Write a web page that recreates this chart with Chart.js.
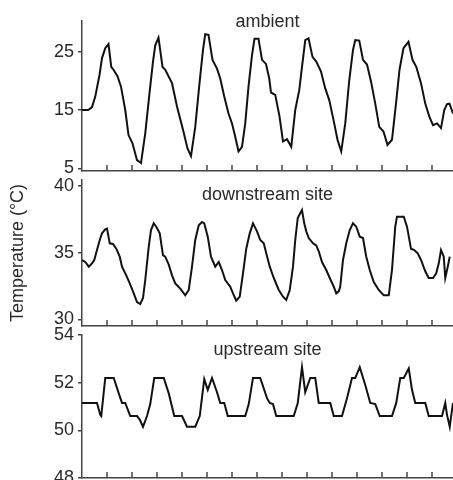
<!DOCTYPE html>
<html><head><meta charset="utf-8">
<script src="https://cdn.jsdelivr.net/npm/chart.js@4/dist/chart.umd.min.js"></script>
<style>
html,body{margin:0;padding:0;background:#fff;}
#wrap{position:relative;width:453px;height:480px;overflow:hidden;background:#fff;}
canvas{position:absolute;left:0;top:0;}
</style></head><body>
<div id="wrap">
<canvas id="c1" width="453" height="480"></canvas>
<canvas id="c2" width="453" height="480"></canvas>
<canvas id="c3" width="453" height="480"></canvas>
</div>
<script>
// time in tick intervals
const ambientTime = [0,0.25,0.4,0.53,0.7,0.8,0.93,1.06,1.17,1.26,1.42,1.56,1.73,1.86,2.02,2.2,2.36,2.53,2.7,2.84,2.93,3.06,3.22,3.33,3.6,3.8,4.04,4.22,4.36,4.53,4.7,4.84,4.93,5.06,5.22,5.4,5.53,5.69,5.86,6,6.13,6.26,6.4,6.53,6.66,6.8,6.9,7.06,7.2,7.36,7.49,7.56,7.73,7.9,8.04,8.2,8.37,8.53,8.69,8.8,8.93,9.06,9.22,9.37,9.56,9.73,9.89,10.06,10.22,10.37,10.53,10.69,10.84,10.93,11.09,11.24,11.4,11.56,11.73,11.89,12.06,12.22,12.4,12.56,12.7,12.86,13.06,13.22,13.37,13.56,13.73,13.89,14.04,14.2,14.36,14.49,14.6,14.7,14.84];
const ambientTemp = [15,15,15.5,17.3,21,23.9,25.6,26.3,22.4,21.9,20.8,19,15,10.7,9.3,6.4,5.9,11,17.9,23.3,26.1,27.4,22.4,21.9,19.6,15.6,11.6,8.4,7.1,12.1,19.6,25.3,28,27.9,23.6,22.1,20.4,17.3,14.4,12.7,10.4,7.9,8.7,12.7,19,24.4,27.2,27.2,23.6,22.9,20.4,18,17.6,13.9,9.6,10,8.7,15,18.4,22.4,27,27.3,24.1,23.3,21.6,18.7,16.7,13.3,9.9,7.9,12.7,20.1,25.3,27,26.9,23.6,22.8,19.9,16.1,12.1,11.3,9,9.9,16.1,21.9,25.6,26.7,23.6,22.4,19.6,16.1,13.9,12.4,12.7,11.9,15,16,16.1,14.4];

const downstreamTime = [0,0.13,0.27,0.4,0.49,0.6,0.71,0.8,0.93,1,1.11,1.24,1.37,1.51,1.6,1.77,1.91,2.07,2.2,2.33,2.44,2.53,2.67,2.76,2.87,2.97,3.11,3.24,3.33,3.47,3.6,3.73,3.93,4.13,4.27,4.4,4.53,4.67,4.8,4.89,5.03,5.16,5.33,5.47,5.6,5.73,5.93,6.04,6.17,6.31,6.44,6.57,6.71,6.84,7,7.13,7.27,7.37,7.51,7.67,7.87,8.04,8.17,8.31,8.44,8.53,8.63,8.73,8.8,8.89,8.97,9.07,9.24,9.37,9.47,9.6,9.77,9.91,10.07,10.17,10.27,10.33,10.44,10.57,10.71,10.84,10.97,11.11,11.24,11.37,11.51,11.67,11.87,12.07,12.27,12.4,12.53,12.6,12.87,13,13.16,13.29,13.43,13.56,13.73,13.87,14.04,14.17,14.27,14.36,14.47,14.53,14.63,14.71];
const downstreamTemp = [34.45,34.3,33.95,34.2,34.45,35.2,35.95,36.45,36.75,36.8,35.7,35.65,35.3,34.7,33.95,33.3,32.7,31.95,31.3,31.15,31.6,32.95,35.45,36.7,37.2,36.95,36.45,34.8,34.7,34.1,33.3,32.7,32.3,31.8,32.2,33.95,35.95,37.05,37.3,37.2,36.2,34.7,33.95,34.3,33.7,32.95,32.45,31.95,31.4,31.7,33.45,35.3,36.45,37.2,36.6,35.95,35.7,34.95,33.95,33.1,32.2,31.7,31.45,32.2,33.95,35.95,37.6,37.95,38.2,37.2,36.6,36.1,35.7,35.55,35.1,34.3,33.7,33.1,32.45,31.95,32.1,32.45,34.45,35.7,36.7,37.2,36.95,36.2,36.1,34.7,33.7,32.8,32.2,31.8,31.8,33.7,36.95,37.7,37.7,36.95,35.3,35.2,34.95,34.45,33.6,33.1,33.1,33.45,34.2,35.2,34.7,33.1,33.95,34.7];

const upstreamTime = [0,0.6,0.73,0.77,0.93,1.27,1.47,1.6,1.73,1.93,2.2,2.31,2.44,2.6,2.73,2.89,3.27,3.47,3.69,4,4.2,4.53,4.71,4.89,5.03,5.2,5.4,5.53,5.69,5.83,6.53,6.67,6.84,7.13,7.4,7.51,7.64,7.77,8.47,8.63,8.8,8.93,9.13,9.33,9.47,9.93,10.07,10.4,10.6,10.8,10.93,11.11,11.33,11.53,11.73,11.91,12.4,12.57,12.73,12.87,13.07,13.2,13.33,13.73,13.87,14.4,14.53,14.6,14.71,14.76,14.84];
const upstreamTemp = [51.15,51.15,50.65,50.6,52.2,52.2,51.55,51.15,51.15,50.6,50.6,50.45,50.15,50.6,51.1,52.2,52.2,51.55,50.6,50.6,50.15,50.15,50.6,52.15,51.7,52.2,51.6,51.15,51.15,50.6,50.6,51.1,52.2,52.2,51.35,51.15,51.1,50.6,50.6,51.15,52.65,51.6,52.2,52.2,51.15,51.15,50.6,50.6,51.35,52.2,52.2,52.65,51.9,51.15,51.1,50.6,50.6,51.15,52.2,52.2,52.6,51.7,51.15,51.15,50.6,50.6,51.15,50.65,50.15,50.55,51.15];

const xTickValues = [1,2,3,4,5,6,7,8,9,10,11,12,13,14];
const ambientTicks = [5,15,25];
const downstreamTicks = [30,35,40];
const upstreamTicks = [48,50,52,54];
const panelTitles = ['ambient','downstream site','upstream site'];
const yAxisTitle = 'Temperature (°C)';

const FONT = "'Liberation Sans', Arial, Helvetica, sans-serif";
const AXIS = '#444';
const TEXT = '#2a2a2a';

const innerTicks = {
  id: 'innerTicks',
  afterDraw(chart) {
    const xs = chart.scales.x, a = chart.chartArea, ctx = chart.ctx;
    ctx.save();
    ctx.strokeStyle = AXIS; ctx.lineWidth = 1.5;
    xs.ticks.forEach(t => {
      const px = xs.getPixelForValue(t.value);
      ctx.beginPath(); ctx.moveTo(px, a.bottom); ctx.lineTo(px, a.bottom - 6); ctx.stroke();
    });
    ctx.restore();
  }
};

function noPad(s) { s.paddingTop = 0; s.paddingBottom = 0; s.paddingLeft = 0; s.paddingRight = 0; }

function makePanel(id, times, temps, yMin, yMax, yTicks, title, layoutPad, titlePad, withYTitle) {
  new Chart(document.getElementById(id), {
    type: 'line',
    data: { datasets: [{
      data: times.map((t, i) => ({x: t, y: temps[i]})),
      borderColor: '#111', borderWidth: 2, pointRadius: 0, tension: 0, fill: false
    }]},
    options: {
      responsive: false, animation: false, devicePixelRatio: 1,
      layout: { padding: { left: 0, right: 0, top: layoutPad.top, bottom: layoutPad.bottom } },
      plugins: {
        legend: { display: false }, tooltip: { enabled: false },
        title: { display: true, text: title, fullSize: false, color: TEXT,
          font: { family: FONT, size: 18, weight: 'normal', lineHeight: 1.2 },
          padding: titlePad }
      },
      scales: {
        x: { type: 'linear', min: 0, max: 14.84,
          afterBuildTicks: s => { s.ticks = xTickValues.map(v => ({value: v})); },
          afterFit: s => { s.height = 0; noPad(s); },
          ticks: { display: false },
          grid: { display: false, drawTicks: false },
          border: { display: true, color: AXIS, width: 1.5 } },
        y: { min: yMin, max: yMax,
          afterBuildTicks: s => { s.ticks = yTicks.map(v => ({value: v})); },
          afterFit: s => { s.width = 82; noPad(s); },
          grid: { drawOnChartArea: false, drawTicks: true, tickLength: 4, color: AXIS, lineWidth: 1.5 },
          border: { display: true, color: AXIS, width: 1.5 },
          ticks: { color: TEXT, font: { family: FONT, size: 18 }, padding: 4 },
          title: { display: withYTitle, text: yAxisTitle, color: TEXT,
            font: { family: FONT, size: 18 }, padding: { top: 7, bottom: 0 } } }
      }
    },
    plugins: [innerTicks]
  });
}

makePanel('c1', ambientTime, ambientTemp, 4.54, 30.26, ambientTicks, panelTitles[0],
  {top: 11, bottom: 309}, {top: 0.2, bottom: -11.8}, false);
makePanel('c2', downstreamTime, downstreamTemp, 29.5, 40.45, downstreamTicks, panelTitles[1],
  {top: 170, bottom: 154}, {top: 14.7, bottom: -26.3}, true);
makePanel('c3', upstreamTime, upstreamTemp, 48, 54, upstreamTicks, panelTitles[2],
  {top: 325, bottom: 2}, {top: 14.7, bottom: -26.3}, false);
</script>
</body></html>
